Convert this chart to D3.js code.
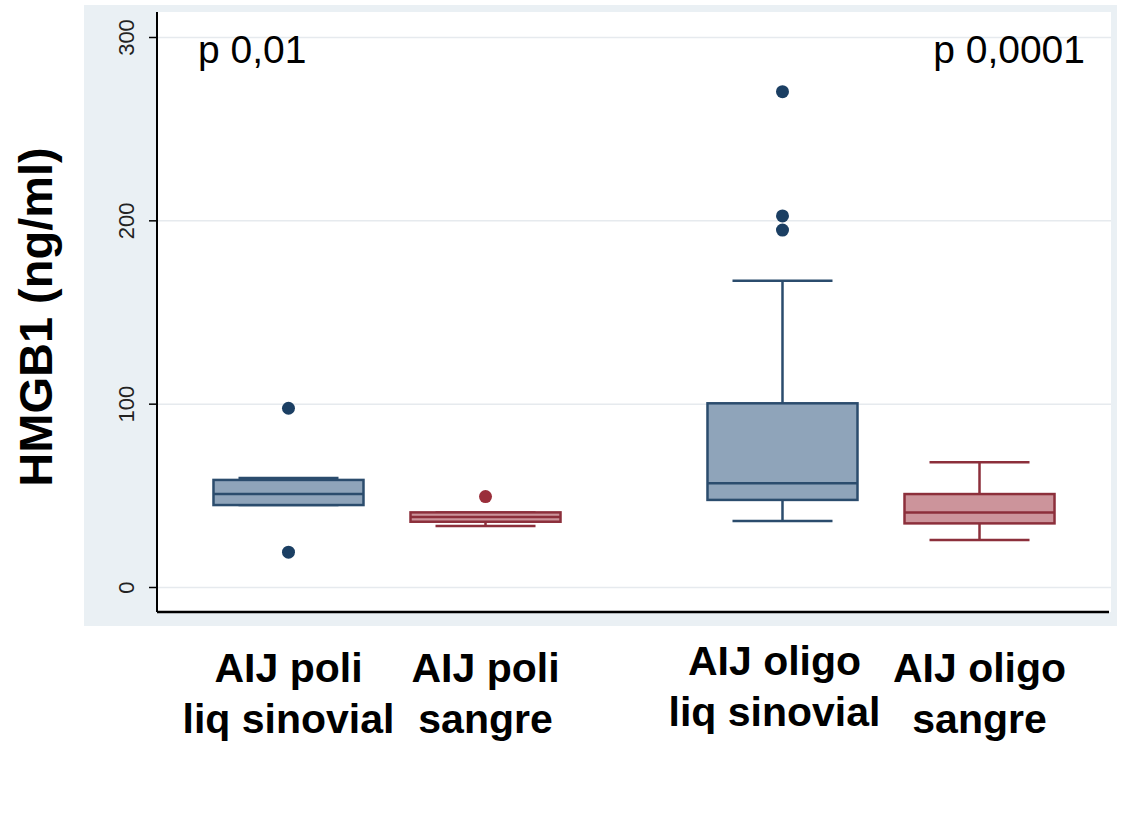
<!DOCTYPE html>
<html>
<head>
<meta charset="utf-8">
<script src="https://cdn.jsdelivr.net/npm/d3@7"></script>
<style>
  body { margin: 0; background: #fff; }
  svg { display: block; font-family: Arial, "Liberation Sans", sans-serif; }
</style>
</head>
<body>
<div id="chart"></div>
<script>
// groups and sample types
const groups = ['poli', 'oligo'];
const samples = ['liq sinovial', 'sangre'];

// one entry per box, in order: poli/sinovial, poli/sangre, oligo/sinovial, oligo/sangre
const boxGroup = ['poli', 'poli', 'oligo', 'oligo'];
const boxSample = ['liq sinovial', 'sangre', 'liq sinovial', 'sangre'];
const labelLine1 = ['AIJ poli', 'AIJ poli', 'AIJ oligo', 'AIJ oligo'];
const labelLine2 = ['liq sinovial', 'sangre', 'liq sinovial', 'sangre'];

const whiskerLow = [44.7, 33.3, 36, 25.6];
const q1 = [44.7, 35.6, 47.5, 34.7];
const median = [50.7, 38.2, 56.6, 40.7];
const q3 = [58.4, 40.7, 100.2, 50.7];
const whiskerHigh = [59.5, 40.7, 167, 68];
const outliers = [[97.5, 19], [49.3], [270.2, 202.4, 194.7], []];

const yTicks = [0, 100, 200, 300];
const pValues = ['p 0,01', 'p 0,0001'];

// colours by sample type
const fillColor = { 'liq sinovial': '#8fa4ba', 'sangre': '#cc949b' };
const strokeColor = { 'liq sinovial': '#2b4c6d', 'sangre': '#8c2f3b' };
const dotColor = { 'liq sinovial': '#1b3f63', 'sangre': '#9a2e3a' };

const width = 1132, height = 819;
const plotLeft = 157, plotRight = 1111, plotTop = 12, plotBottom = 612;

const svg = d3.select('#chart').append('svg')
  .attr('width', width)
  .attr('height', height);

// grey panel behind the plot
svg.append('rect')
  .attr('x', 84).attr('y', 5)
  .attr('width', 1033).attr('height', 621)
  .attr('fill', '#eaf0f4');

svg.append('rect')
  .attr('x', plotLeft).attr('y', plotTop)
  .attr('width', plotRight - plotLeft).attr('height', plotBottom - plotTop)
  .attr('fill', '#fff');

// scales
const y = d3.scaleLinear()
  .domain([0, 300])
  .range([587, 37]);

const xGroup = d3.scaleBand()
  .domain(groups)
  .range([140, 1128])
  .padding(0);

const xSample = d3.scaleBand()
  .domain(samples)
  .range([0, xGroup.bandwidth()])
  .paddingInner(0.2386)
  .paddingOuter(0.373);

const boxes = boxGroup.map((g, i) => ({
  group: g,
  sample: boxSample[i],
  x: xGroup(g) + xSample(boxSample[i]),
  lo: whiskerLow[i], q1: q1[i], med: median[i], q3: q3[i], hi: whiskerHigh[i],
  out: outliers[i],
  l1: labelLine1[i], l2: labelLine2[i]
}));

const bw = xSample.bandwidth();
const capW = bw * 2 / 3;

// grid lines
svg.append('g')
  .attr('transform', `translate(${plotLeft},0)`)
  .call(d3.axisLeft(y).tickValues(yTicks).tickSize(-(plotRight - plotLeft)).tickFormat(''))
  .call(g => g.select('.domain').remove())
  .call(g => g.selectAll('line').attr('stroke', '#e6eaee').attr('stroke-width', 1.5));

// boxes
const bx = svg.append('g').selectAll('g')
  .data(boxes)
  .enter()
  .append('g');

bx.append('line')
  .attr('x1', d => d.x + bw / 2).attr('x2', d => d.x + bw / 2)
  .attr('y1', d => y(d.hi)).attr('y2', d => y(d.q3))
  .attr('stroke', d => strokeColor[d.sample]).attr('stroke-width', 2.5);

bx.append('line')
  .attr('x1', d => d.x + bw / 2).attr('x2', d => d.x + bw / 2)
  .attr('y1', d => y(d.q1)).attr('y2', d => y(d.lo))
  .attr('stroke', d => strokeColor[d.sample]).attr('stroke-width', 2.5);

bx.append('line')
  .attr('x1', d => d.x + (bw - capW) / 2).attr('x2', d => d.x + (bw + capW) / 2)
  .attr('y1', d => y(d.hi)).attr('y2', d => y(d.hi))
  .attr('stroke', d => strokeColor[d.sample]).attr('stroke-width', 2.5);

bx.append('line')
  .attr('x1', d => d.x + (bw - capW) / 2).attr('x2', d => d.x + (bw + capW) / 2)
  .attr('y1', d => y(d.lo)).attr('y2', d => y(d.lo))
  .attr('stroke', d => strokeColor[d.sample]).attr('stroke-width', 2.5);

bx.append('rect')
  .attr('x', d => d.x)
  .attr('y', d => y(d.q3))
  .attr('width', bw)
  .attr('height', d => y(d.q1) - y(d.q3))
  .attr('fill', d => fillColor[d.sample])
  .attr('stroke', d => strokeColor[d.sample])
  .attr('stroke-width', 2.5);

bx.append('line')
  .attr('x1', d => d.x).attr('x2', d => d.x + bw)
  .attr('y1', d => y(d.med)).attr('y2', d => y(d.med))
  .attr('stroke', d => strokeColor[d.sample]).attr('stroke-width', 2.5);

// outliers
bx.selectAll('circle')
  .data(d => d.out.map(v => ({ v, x: d.x + bw / 2, sample: d.sample })))
  .enter()
  .append('circle')
  .attr('cx', d => d.x)
  .attr('cy', d => y(d.v))
  .attr('r', 6.5)
  .attr('fill', d => dotColor[d.sample]);

// y axis
const yAxis = svg.append('g')
  .attr('transform', `translate(${plotLeft},0)`)
  .call(d3.axisLeft(y).tickValues(yTicks).tickSize(8).tickSizeOuter(0));

yAxis.attr('font-size', 22).attr('font-family', null);
yAxis.select('.domain')
  .attr('d', `M0,${plotTop}V${plotBottom}`)
  .attr('stroke', '#000').attr('stroke-width', 2);
yAxis.selectAll('.tick line').attr('stroke', '#000').attr('stroke-width', 1.5);
yAxis.selectAll('.tick text')
  .attr('transform', 'rotate(-90)')
  .attr('x', 0).attr('y', -23).attr('dy', 0)
  .attr('text-anchor', 'middle')
  .attr('font-size', 22)
  .attr('fill', '#222');

// x axis line
svg.append('line')
  .attr('x1', plotLeft).attr('x2', plotRight - 2)
  .attr('y1', plotBottom).attr('y2', plotBottom)
  .attr('stroke', '#000').attr('stroke-width', 2.5);

// y title
svg.append('text')
  .attr('transform', 'translate(52,317) rotate(-90)')
  .attr('text-anchor', 'middle')
  .attr('font-size', 47)
  .attr('font-weight', 'bold')
  .text('HMGB1 (ng/ml)');

// p values
svg.append('text')
  .attr('x', 198).attr('y', 63)
  .attr('font-size', 39)
  .text(pValues[0]);

svg.append('text')
  .attr('x', 1085).attr('y', 63)
  .attr('text-anchor', 'end')
  .attr('font-size', 39)
  .text(pValues[1]);

// category labels
const lbl = svg.append('g').selectAll('text')
  .data(boxes)
  .enter()
  .append('text')
  .attr('text-anchor', 'middle')
  .attr('font-size', 41)
  .attr('font-weight', 'bold')
  .attr('transform', (d, i) => `translate(${d.x + bw / 2 + (i === 2 ? -8 : 0)},${i === 2 ? 675 : 682})`);

lbl.append('tspan').attr('x', 0).attr('y', 0).text(d => d.l1);
lbl.append('tspan').attr('x', 0).attr('y', 51).text(d => d.l2);
</script>
</body>
</html>
